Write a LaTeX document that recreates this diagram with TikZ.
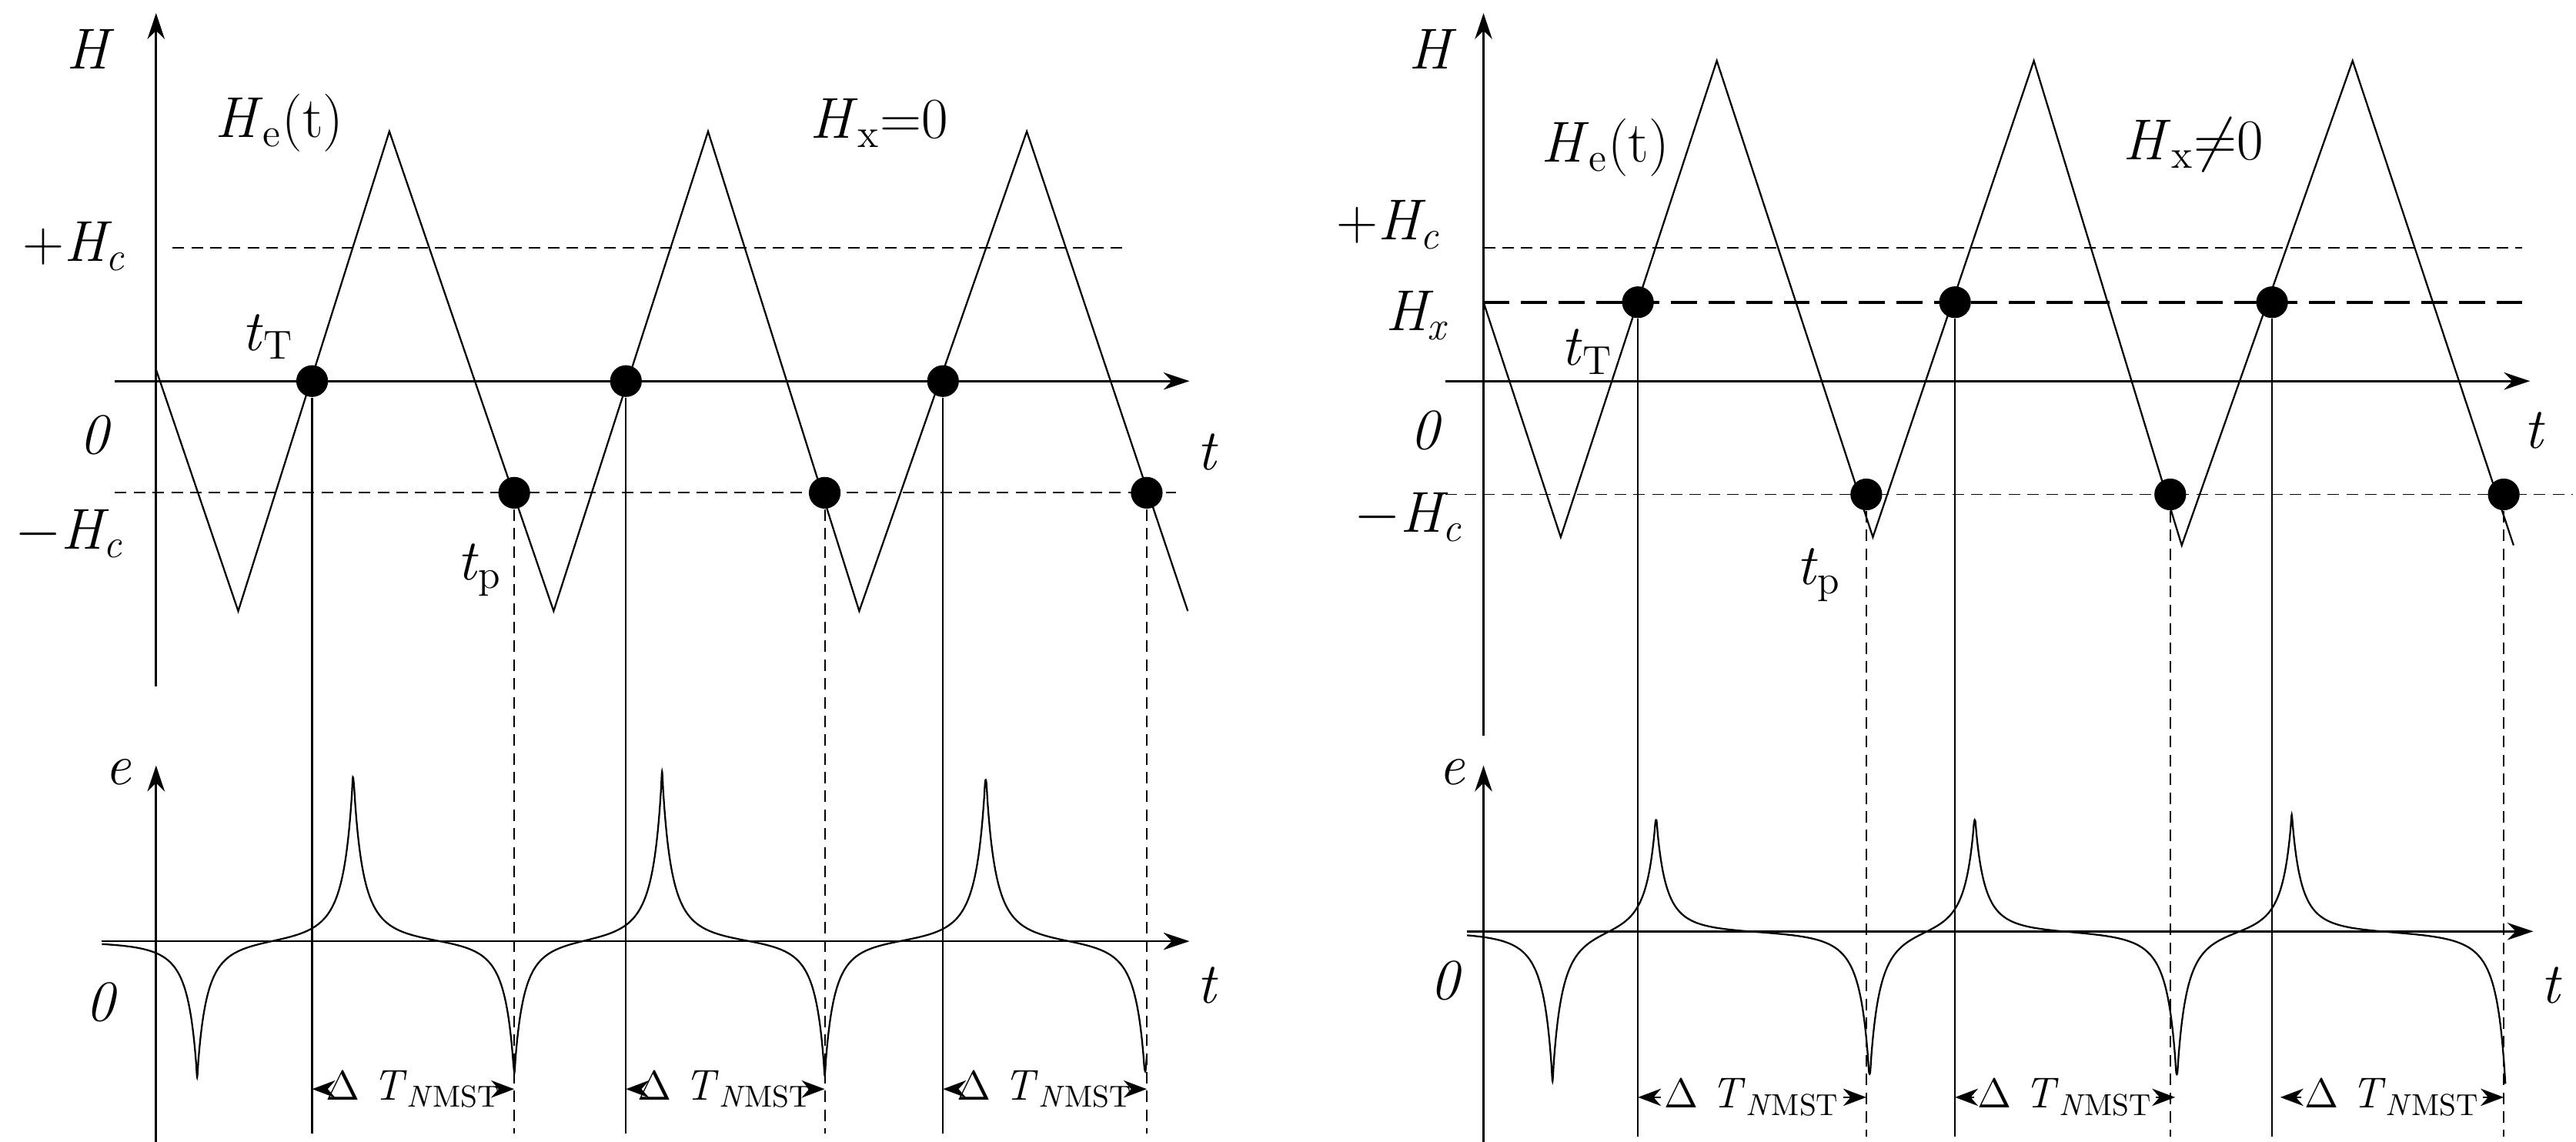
\documentclass[tikz,border=0pt]{standalone}
\usetikzlibrary{arrows.meta}
\begin{document}
\begin{tikzpicture}[x=0.02cm,y=-0.02cm,
  ln/.style={line width=0.6pt},
  ax/.style={line width=0.7pt,-{Stealth[length=9pt,width=6pt]}},
  hc/.style={line width=0.5pt,dash pattern=on 4pt off 2.5pt},
  hx/.style={line width=1pt,dash pattern=on 9pt off 4pt},
  vd/.style={line width=0.5pt,dash pattern=on 4pt off 2.5pt},
  dot/.style={circle,fill=black,inner sep=0pt,minimum size=11pt},
  lab/.style={font=\fontsize{20}{24}\selectfont,inner sep=1pt},
  dt/.style={font=\fontsize{15}{18}\selectfont,inner sep=1pt},
  dar/.style={line width=0.6pt,-{Stealth[length=8pt,width=6pt]}}]
\useasboundingbox (0,0) rectangle (1568,695);
% ================= LEFT =================
\coordinate (LHb) at (95,418); \coordinate (LHt) at (95,8);
\draw[ax] (LHb) -- (LHt);
\coordinate (LTa) at (70,232); \coordinate (LTb) at (724,232);
\draw[ax] (LTa) -- (LTb);
\coordinate (Lp1) at (105,151); \coordinate (Lp2) at (687,151);
\draw[hc] (Lp1) -- (Lp2);
\coordinate (Lm1) at (70,300); \coordinate (Lm2) at (716,300);
\draw[hc] (Lm1) -- (Lm2);
\draw[ln] (95,225) -- (145,372) -- (237,80) -- (337,372) -- (431,80) -- (523,372) -- (625,80) -- (723,372);
\foreach \i/\x in {1/190,2/381,3/574}{
  \node[dot] (LT\i) at (\x,232) {};
  \coordinate (LTe\i) at (\x,690);
  \draw[ln] (LT\i) -- (LTe\i);}
\foreach \i/\x in {1/313,2/502,3/698}{
  \node[dot] (LP\i) at (\x,300) {};
  \coordinate (LPe\i) at (\x,690);
  \draw[vd] (LP\i) -- (LPe\i);}
\coordinate (LEb) at (95,695); \coordinate (LEt) at (95,466);
\draw[ax] (LEb) -- (LEt);
\coordinate (LE1) at (62,573); \coordinate (LE2) at (724,573);
\draw[ax] (LE1) -- (LE2);
\draw[ln] plot[domain=62:698,samples=900,smooth] (\x,{573
 -105/(1+abs(\x-215)/11)^2-105/(1+abs(\x-403)/11)^2-105/(1+abs(\x-600)/11)^2
 +84/(1+abs(\x-120)/11)^2+84/(1+abs(\x-313)/11)^2+84/(1+abs(\x-502)/11)^2+84/(1+abs(\x-697)/11)^2});
\foreach \i/\a/\b in {1/190/313,2/381/502,3/574/698}{
  \node[dt] (LD\i) at ({(\a+\b)/2},663) {$\Delta$ \textit{T}\textsubscript{\textit{N}MST}};
  \coordinate (LDa\i) at (\a,663); \coordinate (LDb\i) at (\b,663);
  \draw[dar] (LD\i.west) -- (LDa\i);
  \draw[dar] (LD\i.east) -- (LDb\i);}
\node[lab] (lH) at (55,30) {\textit{H}};
\node[lab] (lHe) at (170,75) {\textit{H}\textsubscript{e}(t)};
\node[lab] (lHx) at (535,75) {\textit{H}\textsubscript{x}=0};
\node[lab] (lpHc) at (45,150) {+\textit{H\textsubscript{c}}};
\node[lab] (ltT) at (163,205) {\textit{t}\textsubscript{T}};
\node[lab] (l0) at (58,265) {\textit{0}};
\node[lab] (lt) at (735,275) {\textit{t}};
\node[lab] (lmHc) at (42,325) {$-$\textit{H\textsubscript{c}}};
\node[lab] (ltp) at (292,347) {\textit{t}\textsubscript{p}};
\node[lab] (le) at (72,470) {\textit{e}};
\node[lab] (l0b) at (62,610) {\textit{0}};
\node[lab] (ltb) at (735,600) {\textit{t}};
% ================= RIGHT =================
\coordinate (RHb) at (903,448); \coordinate (RHt) at (903,8);
\draw[ax] (RHb) -- (RHt);
\coordinate (RTa) at (880,232); \coordinate (RTb) at (1540,232);
\draw[ax] (RTa) -- (RTb);
\coordinate (Rp1) at (903,151); \coordinate (Rp2) at (1535,151);
\draw[hc] (Rp1) -- (Rp2);
\coordinate (Rx1) at (903,184); \coordinate (Rx2) at (1535,184);
\draw[hx] (Rx1) -- (Rx2);
\coordinate (Rm1) at (880,301); \coordinate (Rm2) at (1566,301);
\draw[hc] (Rm1) -- (Rm2);
\draw[ln] (903,184) -- (950,327) -- (1045,37) -- (1140,327) -- (1238,37) -- (1328,332) -- (1432,37) -- (1530,332);
\foreach \i/\x in {1/997,2/1190,3/1383}{
  \node[dot] (RT\i) at (\x,184) {};
  \coordinate (RTe\i) at (\x,692);
  \draw[ln] (RT\i) -- (RTe\i);}
\foreach \i/\x in {1/1136,2/1321,3/1524}{
  \node[dot] (RP\i) at (\x,301) {};
  \coordinate (RPe\i) at (\x,692);
  \draw[vd] (RP\i) -- (RPe\i);}
\coordinate (REb) at (903,695); \coordinate (REt) at (903,466);
\draw[ax] (REb) -- (REt);
\coordinate (RE1) at (893,567); \coordinate (RE2) at (1542,567);
\draw[ax] (RE1) -- (RE2);
\draw[ln] plot[domain=893:1525,samples=900,smooth] (\x,{567
 -74/(1+abs(\x-1008)/11)^2-74/(1+abs(\x-1202)/11)^2-74/(1+abs(\x-1395)/11)^2
 +93/(1+abs(\x-945)/11)^2+93/(1+abs(\x-1138)/11)^2+93/(1+abs(\x-1325)/11)^2+93/(1+abs(\x-1525)/11)^2});
\foreach \i/\a/\b in {1/997/1136,2/1190/1324,3/1388/1524}{
  \node[dt] (RD\i) at ({(\a+\b)/2},668) {$\Delta$ \textit{T}\textsubscript{\textit{N}MST}};
  \coordinate (RDa\i) at (\a,668); \coordinate (RDb\i) at (\b,668);
  \draw[dar] (RD\i.west) -- (RDa\i);
  \draw[dar] (RD\i.east) -- (RDb\i);}
\node[lab] (rH) at (872,30) {\textit{H}};
\node[lab] (rHe) at (977,90) {\textit{H}\textsubscript{e}(t)};
\node[lab] (rHx) at (1335,88) {\textit{H}\textsubscript{x}$\neq$0};
\node[lab] (rpHc) at (845,137) {+\textit{H\textsubscript{c}}};
\node[lab] (rHxl) at (862,192) {\textit{H\textsubscript{x}}};
\node[lab] (rtT) at (966,214) {\textit{t}\textsubscript{T}};
\node[lab] (r0) at (868,262) {\textit{0}};
\node[lab] (rt) at (1543,262) {\textit{t}};
\node[lab] (rmHc) at (857,315) {$-$\textit{H\textsubscript{c}}};
\node[lab] (rtp) at (1107,350) {\textit{t}\textsubscript{p}};
\node[lab] (re) at (884,470) {\textit{e}};
\node[lab] (r0b) at (880,597) {\textit{0}};
\node[lab] (rtb) at (1553,600) {\textit{t}};
\end{tikzpicture}
\end{document}
